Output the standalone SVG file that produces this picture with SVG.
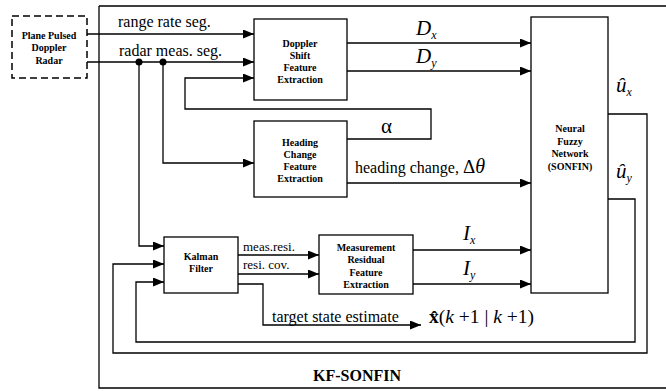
<svg xmlns="http://www.w3.org/2000/svg" width="666" height="391" viewBox="0 0 666 391">
<defs>
<marker id="ah" markerUnits="userSpaceOnUse" markerWidth="12" markerHeight="10" refX="11" refY="4.5" orient="auto"><path d="M0,0 L11,4.5 L0,9 z" fill="#000"/></marker>
<style>
.box{fill:#fff;stroke:#000;stroke-width:1.3}
.bt{font-family:"Liberation Serif",serif;font-weight:bold;font-size:10px;text-anchor:middle;fill:#000}
.lb{font-family:"Liberation Serif",serif;font-size:16px;fill:#000}
.sm{font-family:"Liberation Serif",serif;font-size:13px;fill:#000}
.it{font-family:"Liberation Serif",serif;font-style:italic;font-size:21px;fill:#000}
.ln{fill:none;stroke:#000;stroke-width:1.3}
.ar{fill:none;stroke:#000;stroke-width:1.3;marker-end:url(#ah)}
</style>
</defs>
<rect width="666" height="391" fill="#fff"/>
<g id="kf-sonfin">
<path class="ln" d="M99,6 H670 M99,6 V388 H670" stroke-width="1.5"/>
<text x="313" y="381" font-family="Liberation Serif,serif" font-weight="bold" font-size="16">KF-SONFIN</text>
</g>
<g id="connectors">
<path class="ar" d="M87,34 H254"/>
<path class="ar" d="M87,62 H254"/>
<circle cx="139" cy="62" r="3.5"/>
<circle cx="163" cy="62" r="3.5"/>
<path class="ar" d="M139,62 V246 H164"/>
<path class="ar" d="M163,62 V163 H254"/>
<path class="ar" d="M347,139 H431 V109 H185 V78 H254"/>
<path class="ar" d="M347,43 H531"/>
<path class="ar" d="M347,71 H531"/>
<path class="ar" d="M347,183 H531"/>
<path class="ar" d="M238,255 H319"/>
<path class="ar" d="M238,274 H319"/>
<path class="ar" d="M238,284 H263 V325 H421"/>
<path class="ar" d="M413,250 H531"/>
<path class="ar" d="M413,284 H531"/>
<path class="ar" d="M608,114 H647 V353 H113 V264 H164"/>
<path class="ar" d="M608,199 H635 V342 H136 V282 H164"/>
</g>
<g id="labels">
<text class="lb" x="118" y="27">range rate seg.</text>
<text class="lb" x="119" y="56">radar meas. seg.</text>
<text class="it" x="416" y="35">D<tspan font-size="12" dy="4">x</tspan></text>
<text class="it" x="416" y="63">D<tspan font-size="12" dy="4">y</tspan></text>
<text x="381" y="133" font-family="Liberation Serif,serif" font-size="21">α</text>
<text class="lb" x="355" y="173">heading change, <tspan font-size="19">Δ</tspan><tspan font-size="20" font-style="italic">θ</tspan></text>
<text class="sm" x="243" y="251">meas.resi.</text>
<text class="sm" x="243" y="269">resi. cov.</text>
<text class="it" x="463" y="240">I<tspan font-size="12" dy="4">x</tspan></text>
<text class="it" x="463" y="275">I<tspan font-size="12" dy="4">y</tspan></text>
<text class="lb" x="272" y="322">target state estimate</text>
<text x="429" y="323" font-family="Liberation Serif,serif" font-size="19.5"><tspan font-weight="bold">x̂</tspan>(<tspan font-style="italic">k</tspan> +1 | <tspan font-style="italic">k</tspan> +1)</text>
<text class="it" x="616" y="92">û<tspan font-size="12" dy="4">x</tspan></text>
<text class="it" x="616" y="178">û<tspan font-size="12" dy="4">y</tspan></text>
</g>
<g id="radar">
<rect x="12" y="16" width="75" height="62" fill="#fff" stroke="#000" stroke-width="1.5" stroke-dasharray="7,4"/>
<text class="bt" x="49" y="39">Plane Pulsed</text>
<text class="bt" x="49" y="51">Doppler</text>
<text class="bt" x="49" y="64">Radar</text>
</g>
<g id="doppler">
<rect class="box" x="254" y="19" width="93" height="81"/>
<text class="bt" x="300" y="47">Doppler</text>
<text class="bt" x="300" y="59">Shift</text>
<text class="bt" x="300" y="71">Feature</text>
<text class="bt" x="300" y="83">Extraction</text>
</g>
<g id="heading">
<rect class="box" x="254" y="121" width="93" height="76"/>
<text class="bt" x="300" y="146">Heading</text>
<text class="bt" x="300" y="158">Change</text>
<text class="bt" x="300" y="170">Feature</text>
<text class="bt" x="300" y="182">Extraction</text>
</g>
<g id="kalman">
<rect class="box" x="164" y="237" width="74" height="56"/>
<text class="bt" x="201" y="260">Kalman</text>
<text class="bt" x="201" y="272">Filter</text>
</g>
<g id="residual">
<rect class="box" x="319" y="235" width="94" height="59"/>
<text class="bt" x="366" y="251">Measurement</text>
<text class="bt" x="366" y="263">Residual</text>
<text class="bt" x="366" y="276">Feature</text>
<text class="bt" x="366" y="288">Extraction</text>
</g>
<g id="sonfin">
<rect class="box" x="531" y="17" width="77" height="276"/>
<text class="bt" x="570" y="132">Neural</text>
<text class="bt" x="570" y="145">Fuzzy</text>
<text class="bt" x="570" y="157">Network</text>
<text class="bt" x="570" y="170">(SONFIN)</text>
</g>
</svg>
